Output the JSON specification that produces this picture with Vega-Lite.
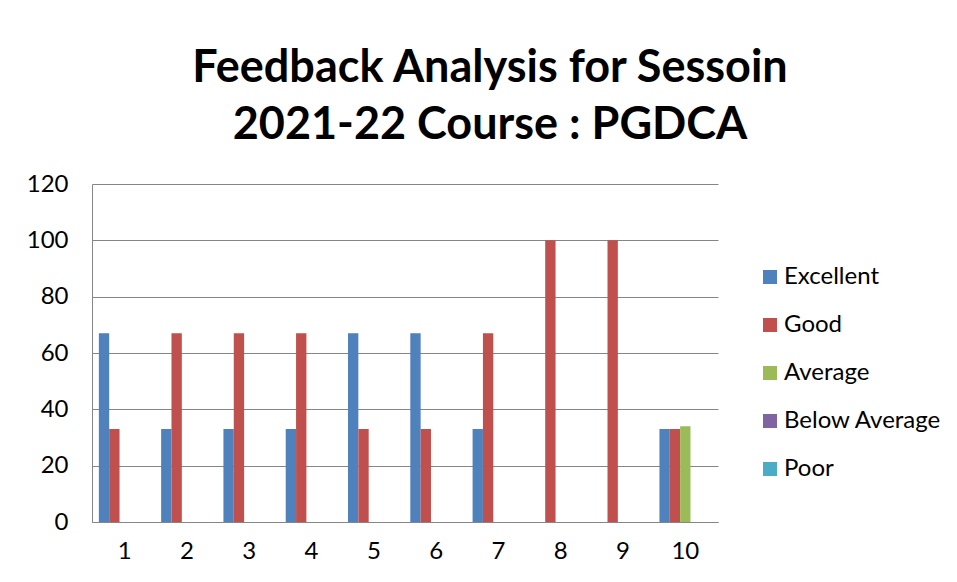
{
  "$schema": "https://vega.github.io/schema/vega-lite/v6.json",
  "autosize": "none",
  "width": 626,
  "height": 338,
  "padding": {"left": 92, "top": 184, "right": 239, "bottom": 60},
  "background": "white",
  "title": {
    "text": ["Feedback Analysis for Sessoin", "2021-22 Course : PGDCA"],
    "font": "Lato",
    "fontSize": 45,
    "fontWeight": "bold",
    "color": "#000000",
    "lineHeight": 57,
    "anchor": "middle",
    "dx": 85,
    "offset": 24
  },
  "data": {
    "values": [
      {"q": "1", "rating": "Excellent", "v": 67},
      {"q": "1", "rating": "Good", "v": 33},
      {"q": "2", "rating": "Excellent", "v": 33},
      {"q": "2", "rating": "Good", "v": 67},
      {"q": "3", "rating": "Excellent", "v": 33},
      {"q": "3", "rating": "Good", "v": 67},
      {"q": "4", "rating": "Excellent", "v": 33},
      {"q": "4", "rating": "Good", "v": 67},
      {"q": "5", "rating": "Excellent", "v": 67},
      {"q": "5", "rating": "Good", "v": 33},
      {"q": "6", "rating": "Excellent", "v": 67},
      {"q": "6", "rating": "Good", "v": 33},
      {"q": "7", "rating": "Excellent", "v": 33},
      {"q": "7", "rating": "Good", "v": 67},
      {"q": "8", "rating": "Good", "v": 100},
      {"q": "9", "rating": "Good", "v": 100},
      {"q": "10", "rating": "Excellent", "v": 33},
      {"q": "10", "rating": "Good", "v": 33},
      {"q": "10", "rating": "Average", "v": 34},
      {"q": "10", "rating": "Below Average", "v": 0},
      {"q": "10", "rating": "Poor", "v": 0}
    ]
  },
  "mark": {"type": "bar"},
  "encoding": {
    "x": {
      "field": "q",
      "type": "nominal",
      "sort": ["1", "2", "3", "4", "5", "6", "7", "8", "9", "10"],
      "scale": {"paddingInner": 0.17, "paddingOuter": 0.11},
      "axis": {
        "title": null,
        "labelAngle": 0,
        "labelFont": "Lato",
        "labelFontSize": 24,
        "labelColor": "#000000",
        "labelPadding": 17,
        "ticks": false,
        "domainColor": "#868686",
        "domainWidth": 1
      }
    },
    "xOffset": {
      "field": "rating",
      "type": "nominal",
      "sort": ["Excellent", "Good", "Average", "Below Average", "Poor"],
      "scale": {"domain": ["Excellent", "Good", "Average", "Below Average", "Poor"], "paddingInner": 0, "paddingOuter": 0}
    },
    "y": {
      "field": "v",
      "type": "quantitative",
      "scale": {"domain": [0, 120], "nice": false},
      "axis": {
        "title": null,
        "values": [0, 20, 40, 60, 80, 100, 120],
        "labelFont": "Lato",
        "labelFontSize": 24,
        "labelColor": "#000000",
        "labelPadding": 24,
        "ticks": false,
        "grid": true,
        "gridColor": "#868686",
        "gridWidth": 1,
        "domainColor": "#868686"
      }
    },
    "color": {
      "field": "rating",
      "type": "nominal",
      "sort": ["Excellent", "Good", "Average", "Below Average", "Poor"],
      "scale": {
        "domain": ["Excellent", "Good", "Average", "Below Average", "Poor"],
        "range": ["#4F81BD", "#C0504D", "#9BBB59", "#8064A2", "#4BACC6"]
      },
      "legend": {
        "title": null,
        "orient": "none",
        "legendX": 666,
        "legendY": 81,
        "symbolType": "square",
        "symbolSize": 196,
        "symbolStrokeWidth": 0,
        "labelFont": "Lato",
        "labelFontSize": 24,
        "labelColor": "#000000",
        "labelOffset": 2,
        "rowPadding": 24,
        "labelLimit": 300
      }
    }
  },
  "config": {
    "view": {"stroke": null}
  }
}
